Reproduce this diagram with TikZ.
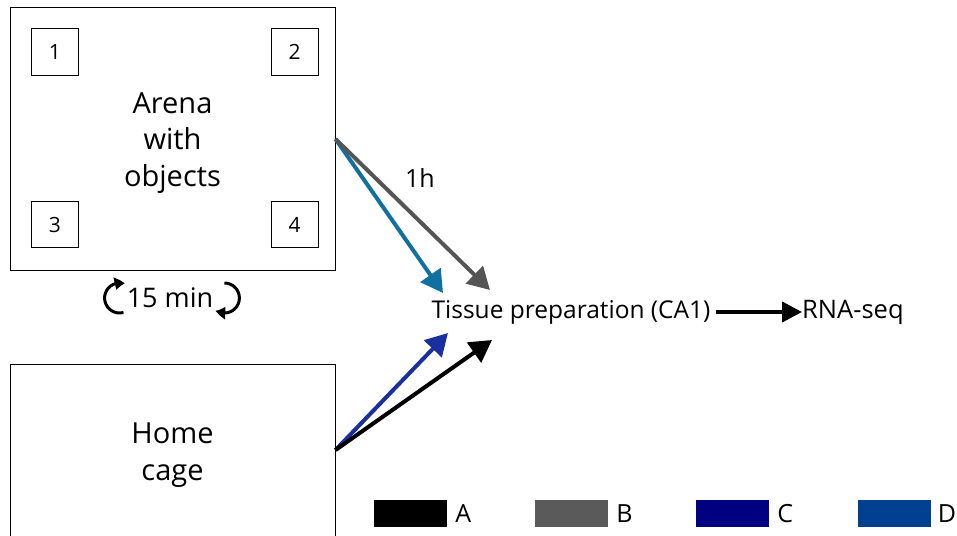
\documentclass[tikz,border=0pt]{standalone}
\usepackage{fontspec}
\setmainfont{Open Sans}
\definecolor{tealarr}{HTML}{1170A0}
\definecolor{grayarr}{HTML}{555555}
\definecolor{bluearr}{HTML}{1A2FA0}
\definecolor{legB}{HTML}{5A5A5A}
\definecolor{legC}{HTML}{000080}
\definecolor{legD}{HTML}{004090}
\usetikzlibrary{arrows.meta,bending,positioning,calc}
\tikzset{
  cage/.style={draw,line width=1pt,minimum width=325pt},
  cagetext/.style={align=center,font=\fontsize{29}{36.5}\selectfont},
  obj/.style={draw,line width=1pt,minimum width=47pt,minimum height=46pt,
              font=\fontsize{21}{24}\selectfont},
  arr/.style={line width=4pt,-{Triangle[length=22pt,width=24pt]}},
  lbl/.style={font=\fontsize{24}{28}\selectfont,inner sep=0pt,text=black},
  loop/.style={line width=3pt,-{Triangle[length=10pt,width=12pt,bend]}},
  legbar/.style={minimum width=73pt,minimum height=27pt,inner sep=0pt}
}
\begin{document}
\begin{tikzpicture}[x=1pt,y=-1pt]
    \useasboundingbox (0,0) rectangle (957,535);
    \begin{scope}
    \clip (0,0) rectangle (957,535);
    \node[cage,minimum height=262pt] (arena) at (172.5,139) {};
    \node[cage,minimum height=172pt] (home) at (172.5,450) {};
    \end{scope}
    \node[cagetext] at ($(arena)+(0,4)$) {Arena\\with\\objects};
    \node[cagetext] at ($(home)+(0,5)$) {Home\\cage};
    \node[obj] (o1) at (55,52)   {1};
    \node[obj] (o2) at (294.5,52) {2};
    \node[obj] (o3) at (55,224.5) {3};
    \node[obj] (o4) at (294.5,224.5) {4};
    % habituation loop
    \node[lbl,font=\fontsize{27}{30}\selectfont] (dur) at (170,298) {15 min};
    \draw[loop] ($(dur.west)+(-7,0)+(75:15)$) arc[start angle=75,end angle=290,radius=15];
    \draw[loop] ($(dur.east)+(11,0)+(-90:15)$) arc[start angle=-90,end angle=125,radius=15];
    % sampling
    \node[lbl,font=\fontsize{24.5}{28}\selectfont] (tissue) at (571,312) {Tissue preparation (CA1)};
    \node[lbl,anchor=west,font=\fontsize{25.5}{28}\selectfont] (rna) at (802,312) {RNA-seq};
    \coordinate (tD) at (443,293);
    \coordinate (tB) at (490,290);
    \coordinate (tC) at (448,333);
    \coordinate (tA) at (492,340);
    \draw[arr,tealarr] (arena.east) -- (tD);
    \draw[arr,grayarr] (arena.east) -- (tB);
    \node[lbl,font=\fontsize{25}{28}\selectfont] (time) at (420,178) {1h};
    \draw[arr,bluearr] (home.east) -- (tC);
    \draw[arr,black] (home.east) -- (tA);
    \draw[line width=4pt,-{Triangle[length=20pt,width=20pt]}] (tissue.east) ++(5,0) -- (rna.west);
    % legend
    \tikzset{lbl/.append style={font=\fontsize{25}{28}\selectfont}}
    \node[legbar,fill=black] (kA) at (410.5,513.5) {};
    \node[lbl,right=8pt of kA] {A};
    \node[legbar,fill=legB] (kB) at (571.5,513.5) {};
    \node[lbl,right=8pt of kB] {B};
    \node[legbar,fill=legC] (kC) at (732.5,513.5) {};
    \node[lbl,right=8pt of kC] {C};
    \node[legbar,fill=legD] (kD) at (894,513.5) {};
    \node[lbl,right=7pt of kD] {D};
\end{tikzpicture}
\end{document}
